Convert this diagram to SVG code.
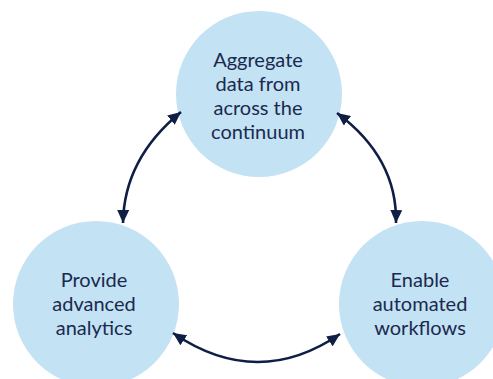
<svg xmlns="http://www.w3.org/2000/svg" width="493" height="379" viewBox="0 0 493 379">
<style>
.node circle{fill:#c3e2f4;}
.node text{font-family:Lato,"Noto Sans",sans-serif;font-size:20px;fill:#1a2a4e;text-anchor:middle;}
.conn path{fill:none;stroke:#0f1e45;stroke-width:2.6;}
</style>
<defs>
<marker id="ah" markerUnits="userSpaceOnUse" markerWidth="14" markerHeight="12" refX="13" refY="6" orient="auto-start-reverse">
<path d="M0,0 L13,6 L0,12 z" fill="#0f1e45"/>
</marker>
</defs>
<rect width="493" height="379" fill="#ffffff"/>
<g id="node-aggregate" class="node">
<circle cx="259" cy="94" r="83"/>
<text x="258" y="67">Aggregate</text>
<text x="258" y="91">data from</text>
<text x="258" y="115">across the</text>
<text x="258" y="139">continuum</text>
</g>
<g id="node-analytics" class="node">
<circle cx="96" cy="304" r="83"/>
<text x="94" y="287">Provide</text>
<text x="94" y="311">advanced</text>
<text x="94" y="335">analytics</text>
</g>
<g id="node-workflows" class="node">
<circle cx="422" cy="304" r="83"/>
<text x="420" y="287">Enable</text>
<text x="420" y="311">automated</text>
<text x="420" y="335">workflows</text>
</g>
<g id="connectors" class="conn">
<path d="M181,112 Q124,158.5 123,223" marker-start="url(#ah)" marker-end="url(#ah)"/>
<path d="M337,113 Q397.5,158 396,223" marker-start="url(#ah)" marker-end="url(#ah)"/>
<path d="M173,333 Q257.5,390.5 340,334" marker-start="url(#ah)" marker-end="url(#ah)"/>
</g>
</svg>
